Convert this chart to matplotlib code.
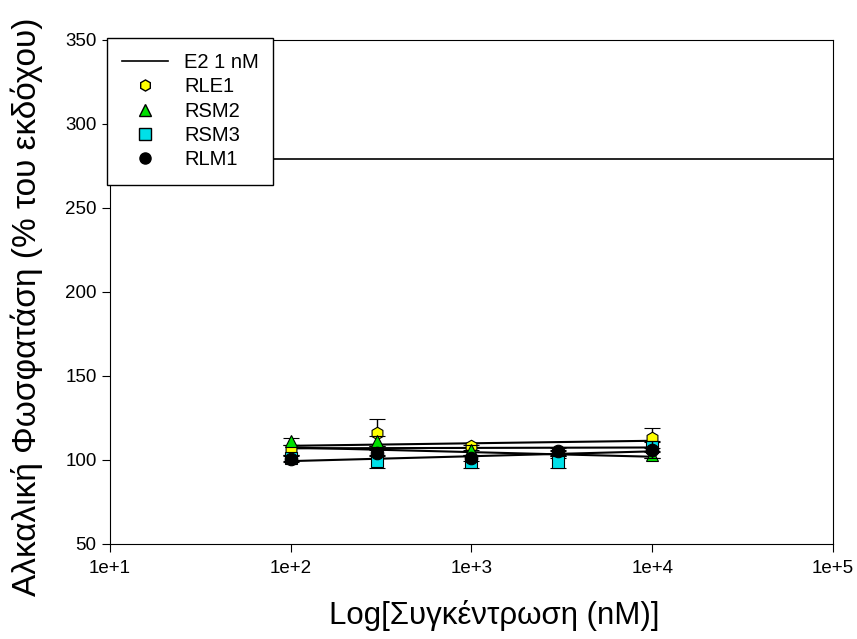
import numpy as np
import matplotlib
matplotlib.use("Agg")
import matplotlib.pyplot as plt
from matplotlib.lines import Line2D

plt.rcParams['font.family'] = ['Liberation Sans', 'DejaVu Sans']

conc = [100, 300, 1000, 3000, 10000]
e2_level = 279

rle1 = [106, 116, 108, 104, 113]
rle1_err = [3, 8, 2, 2, 6]
rsm2 = [111, 111, 106, 103, 103]
rsm2_err = [2, 3, 3, 2, 2]
rsm3 = [101, 99, 98.5, 98.5, 107.5]
rsm3_err = [2, 4, 3.5, 3.5, 3]
rlm1 = [100.5, 104, 101, 105, 106]
rlm1_err = [2, 2, 2, 2, 5]

# fitted lines (value at 1e2 and at 1e4)
fit_x = [100, 10000]
fit_rle1 = [108.3, 111.3]
fit_rsm2 = [107.3, 101.8]
fit_rlm1 = [106.8, 107.3]
fit_rsm3 = [99.2, 105.0]

fig = plt.figure(figsize=(8.57, 6.39), dpi=100)
ax = fig.add_axes([0.128, 0.149, 0.844, 0.789])

ax.axhline(e2_level, color='black', lw=1.2, zorder=1)

for f in (fit_rle1, fit_rsm2, fit_rlm1, fit_rsm3):
    ax.plot(fit_x, f, color='black', lw=1.5, zorder=2)

series = [
    (rle1, rle1_err, 'h', '#ffff00'),
    (rsm2, rsm2_err, '^', '#00e000'),
    (rsm3, rsm3_err, 's', '#00e0e8'),
    (rlm1, rlm1_err, 'o', 'black'),
]
for i, (vals, err, m, c) in enumerate(series):
    ax.errorbar(conc, vals, yerr=err, fmt=m, ms=9, mfc=c, mec='black',
                mew=0.8, ecolor='black', elinewidth=1, capsize=6, capthick=1,
                zorder=3 + i)

ax.set_xscale('log')
ax.set_xlim(10, 1e5)
ax.set_ylim(50, 350)
ax.set_xticks([1e1, 1e2, 1e3, 1e4, 1e5])
ax.set_xticklabels(['1e+1', '1e+2', '1e+3', '1e+4', '1e+5'])
ax.xaxis.set_minor_locator(matplotlib.ticker.NullLocator())
ax.set_yticks([50, 100, 150, 200, 250, 300, 350])
ax.tick_params(direction='out', length=6, labelsize=13.5)
ax.tick_params(axis='x', pad=6)

ax.set_xlabel('Log[Συγκέντρωση (nM)]', fontsize=22.5)
ax.set_ylabel('Αλκαλική Φωσφατάση (% του εκδόχου)', fontsize=24)
ax.xaxis.set_label_coords(0.532, -0.112)
ax.yaxis.set_label_coords(-0.092, 0.47)

handles = [
    Line2D([], [], color='black', lw=1.2),
    Line2D([], [], marker='h', ls='none', ms=8, mfc='#ffff00', mec='black'),
    Line2D([], [], marker='^', ls='none', ms=8, mfc='#00e000', mec='black'),
    Line2D([], [], marker='s', ls='none', ms=8, mfc='#00e0e8', mec='black'),
    Line2D([], [], marker='o', ls='none', ms=8, mfc='black', mec='black'),
]
labels = ['E2 1 nM', 'RLE1', 'RSM2', 'RSM3', 'RLM1']
leg = ax.legend(handles, labels, loc='upper left',
                bbox_to_anchor=(-0.004, 1.004, 0.23, 0.0), mode='expand',
                fontsize=14.5, frameon=True, fancybox=False, edgecolor='black',
                framealpha=1, borderpad=0.75, handlelength=2.3, handletextpad=0.8,
                labelspacing=0.27, borderaxespad=0)
leg.get_frame().set_linewidth(1)
leg.set_zorder(10)

fig.savefig('out.png', dpi=100)
